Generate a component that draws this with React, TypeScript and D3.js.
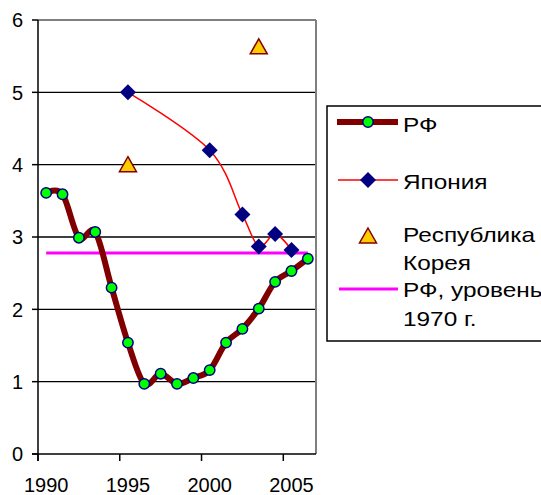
import React from "react";
import * as d3 from "d3";

const years = [1990, 1991, 1992, 1993, 1994, 1995, 1996, 1997, 1998, 1999, 2000, 2001, 2002, 2003, 2004, 2005, 2006];
const rfValues = [3.61, 3.59, 2.99, 3.07, 2.3, 1.54, 0.97, 1.11, 0.97, 1.05, 1.16, 1.54, 1.73, 2.01, 2.38, 2.53, 2.7];
const japanYears = [1995, 2000, 2002, 2003, 2004, 2005];
const japanValues = [5.0, 4.2, 3.31, 2.87, 3.04, 2.82];
const koreaYears = [1995, 2003];
const koreaValues = [4.0, 5.63];
const rf1970Level = 2.78;
const yTicks = [0, 1, 2, 3, 4, 5, 6];
const xTickLabels = [1990, 1995, 2000, 2005];
const legendLabels = ["РФ", "Япония", "Республика", "Корея", "РФ, уровень", "1970 г."];

const W = 541;
const H = 495;
const L = 38, R = 316, T = 20, B = 454;
const FONT = "'Liberation Sans', Arial, sans-serif";

export default function App() {
  const x = d3.scaleBand<number>().domain(years).range([L, R]).padding(0);
  const cx = (yr: number) => (x(yr) as number) + x.bandwidth() / 2;
  const y = d3.scaleLinear().domain([0, 6]).range([B, T]);

  const curve = d3.curveCardinal.tension(0);
  const rfPts: [number, number][] = years.map((yr, i) => [cx(yr), y(rfValues[i])]);
  const jpPts: [number, number][] = japanYears.map((yr, i) => [cx(yr), y(japanValues[i])]);
  const lineGen = d3.line().curve(curve);
  const rfPath = lineGen(rfPts) || "";
  const jpPath = lineGen(jpPts) || "";

  const diamond = (px: number, py: number, s: number) =>
    `M${px},${py - s}L${px + s},${py}L${px},${py + s}L${px - s},${py}Z`;
  const triangle = (px: number, py: number) =>
    `M${px},${py - 8}L${px + 8.5},${py + 7}L${px - 8.5},${py + 7}Z`;

  const lx = 368;
  return (
    <svg width={W} height={H} style={{ position: "absolute", left: 0, top: 0, background: "#fff" }} fontFamily={FONT}>
      {/* gridlines */}
      {yTicks.filter((t) => t > 0 && t < 6).map((t) => (
        <line key={t} x1={L} x2={R} y1={y(t)} y2={y(t)} stroke="#000" strokeWidth={1.3} />
      ))}
      {/* plot border top/right */}
      <line x1={L} x2={R} y1={y(6)} y2={y(6)} stroke="#808080" strokeWidth={2} />
      <line x1={R} x2={R} y1={T} y2={B} stroke="#808080" strokeWidth={2} />
      {/* axes */}
      <line x1={L} x2={L} y1={T} y2={B + 7} stroke="#000" strokeWidth={1.5} />
      <line x1={L - 6} x2={R} y1={B} y2={B} stroke="#000" strokeWidth={1.5} />
      {yTicks.map((t) => (
        <g key={t}>
          <line x1={L - 6} x2={L} y1={y(t)} y2={y(t)} stroke="#000" strokeWidth={1.5} />
          <text x={23} y={y(t)} dy="0.36em" textAnchor="end" fontSize={20}>{t}</text>
        </g>
      ))}
      {xTickLabels.map((yr) => (
        <g key={yr}>
          <line x1={x(yr) as number} x2={x(yr) as number} y1={B} y2={B + 7} stroke="#000" strokeWidth={1.5} />
          <text x={cx(yr)} y={492} textAnchor="middle" fontSize={20}>{yr}</text>
        </g>
      ))}
      {/* RF 1970 level */}
      <line x1={cx(years[0])} x2={cx(years[years.length - 1])} y1={y(rf1970Level)} y2={y(rf1970Level)} stroke="#FF00FF" strokeWidth={3} />
      {/* RF */}
      <path d={rfPath} fill="none" stroke="#800000" strokeWidth={6} strokeLinejoin="round" />
      {rfPts.map((p, i) => (
        <circle key={i} cx={p[0]} cy={p[1]} r={5.2} fill="#00FF00" stroke="#000080" strokeWidth={1.5} />
      ))}
      {/* Japan */}
      <path d={jpPath} fill="none" stroke="#FF0000" strokeWidth={1.5} />
      {jpPts.map((p, i) => (
        <path key={i} d={diamond(p[0], p[1], 8)} fill="#000080" />
      ))}
      {/* Korea */}
      {koreaYears.map((yr, i) => (
        <path key={i} d={triangle(cx(yr), y(koreaValues[i]))} fill="#FFCC00" stroke="#800000" strokeWidth={1.5} />
      ))}
      {/* Legend */}
      <rect x={327} y={106} width={230} height={235} fill="#fff" stroke="#000" strokeWidth={1.5} />
      <line x1={337} x2={398} y1={122} y2={122} stroke="#800000" strokeWidth={6} />
      <circle cx={lx} cy={122} r={5.2} fill="#00FF00" stroke="#000080" strokeWidth={1.5} />
      <line x1={338} x2={398} y1={180} y2={180} stroke="#FF0000" strokeWidth={1.5} />
      <path d={diamond(lx, 180, 8)} fill="#000080" />
      <path d={triangle(lx, 236)} fill="#FFCC00" stroke="#800000" strokeWidth={1.5} />
      <line x1={339} x2={398} y1={289} y2={289} stroke="#FF00FF" strokeWidth={3} />
      {[132, 189, 242, 270, 297, 326].map((by, i) => (
        <text key={i} transform={`translate(403,${by}) scale(1.16,1)`} fontSize={21}>{legendLabels[i]}</text>
      ))}
    </svg>
  );
}
